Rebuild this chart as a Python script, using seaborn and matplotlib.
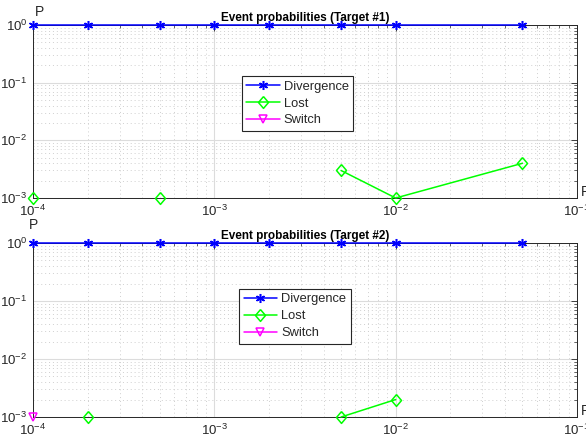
import numpy as np
import pandas as pd
import seaborn as sns
import matplotlib
matplotlib.use("Agg")
import matplotlib.pyplot as plt
from matplotlib.lines import Line2D
from matplotlib.ticker import LogLocator, LogFormatterMathtext, NullFormatter

# Noise rates (x axis) and event probabilities per target (0 = no event, not drawn on log axis)
rates = [1e-4, 2e-4, 5e-4, 1e-3, 2e-3, 5e-3, 1e-2, 5e-2]

t1_divergence = [1, 1, 1, 1, 1, 1, 1, 1]
t1_lost = [1e-3, 0, 1e-3, 0, 0, 3e-3, 1e-3, 4e-3]
t1_switch = [0, 0, 0, 0, 0, 0, 0, 0]

t2_divergence = [1, 1, 1, 1, 1, 1, 1, 1]
t2_lost = [0, 1e-3, 0, 0, 0, 1e-3, 2e-3, 0]
t2_switch = [1e-3, 0, 0, 0, 0, 0, 0, 0]

event_names = ["Divergence", "Lost", "Switch"]
titles = ["Event probabilities (Target #1)", "Event probabilities (Target #2)"]
series = [
    [t1_divergence, t1_lost, t1_switch],
    [t2_divergence, t2_lost, t2_switch],
]

# slightly tall diamond outline
diamond = [(0, 1), (0.85, 0), (0, -1), (-0.85, 0), (0, 1)]

colors = {"Divergence": "#0000ff", "Lost": "#00ff00", "Switch": "#ff00ff"}
markers = {"Divergence": (6, 2, 0), "Lost": diamond, "Switch": "v"}
msizes = {"Divergence": 6.5, "Lost": 8.5, "Switch": 5.5}

sns.set_theme(style="white")
plt.rcParams["font.family"] = ["Liberation Sans", "DejaVu Sans"]
plt.rcParams["mathtext.fontset"] = "custom"
plt.rcParams["mathtext.rm"] = "Liberation Sans"
plt.rcParams["mathtext.it"] = "Liberation Sans"
plt.rcParams["mathtext.default"] = "regular"

fig = plt.figure(figsize=(5.86, 4.41), dpi=100)
W, H = 586, 441
axes_px = [(33, 25, 577, 198), (33, 243, 577, 417)]
legend_anchor = [(0.384, 0.705), (0.379, 0.736)]
p_label_px = [(40, 12.5), (34, 225)]
r_label_px = [(581, 192), (581, 411)]

edge = "#262626"


def to_frame(values, name):
    # split each series into runs of positive values so gaps appear at zeros
    rows = []
    run = 0
    prev_pos = False
    for x, v in zip(rates, values):
        if v > 0:
            if not prev_pos:
                run += 1
            rows.append({"R": x, "P": v, "event": name, "run": run})
            prev_pos = True
        else:
            prev_pos = False
    return pd.DataFrame(rows, columns=["R", "P", "event", "run"])


for i, (l, t, r, b) in enumerate(axes_px):
    ax = fig.add_axes([l / W, 1 - b / H, (r - l) / W, (b - t) / H])
    ax.set_xscale("log")
    ax.set_yscale("log")
    ax.set_xlim(1e-4, 1e-1)
    ax.set_ylim(1e-3, 1)

    for name, vals in zip(event_names, series[i]):
        df = to_frame(vals, name)
        if df.empty:
            continue
        c = colors[name]
        sns.lineplot(data=df, x="R", y="P", units="run", estimator=None,
                     color=c, marker=markers[name], markersize=msizes[name],
                     markerfacecolor="none", markeredgecolor=c,
                     markeredgewidth=1.1, linewidth=1.1, ax=ax,
                     legend=False, clip_on=False, zorder=5)

    ax.set_xlabel("")
    ax.set_ylabel("")

    ax.xaxis.set_major_locator(LogLocator(base=10, numticks=10))
    ax.yaxis.set_major_locator(LogLocator(base=10, numticks=10))
    ax.xaxis.set_minor_locator(LogLocator(base=10, subs=np.arange(2, 10), numticks=20))
    ax.yaxis.set_minor_locator(LogLocator(base=10, subs=np.arange(2, 10), numticks=20))
    ax.xaxis.set_major_formatter(LogFormatterMathtext())
    ax.yaxis.set_major_formatter(LogFormatterMathtext())
    ax.xaxis.set_minor_formatter(NullFormatter())
    ax.yaxis.set_minor_formatter(NullFormatter())

    ax.grid(True, which="major", color="#dcdcdc", linestyle="-", linewidth=0.8)
    ax.grid(True, which="minor", color="#cfcfcf", linestyle=(0, (1, 3)), linewidth=0.7)
    ax.set_axisbelow(True)

    ax.tick_params(which="both", direction="in", top=True, right=True,
                   color=edge, labelcolor=edge, labelsize=9.5, pad=4)
    ax.tick_params(which="major", length=4, width=0.6)
    ax.tick_params(which="minor", length=2.5, width=0.5)
    for s in ax.spines.values():
        s.set_color(edge)
        s.set_linewidth(0.7)
        s.set_visible(True)

    ax.set_title(titles[i], fontsize=8.5, fontweight="bold", color="black", pad=3)

    handles = [Line2D([], [], color=colors[n], marker=markers[n], markersize=msizes[n],
                      markerfacecolor="none", markeredgecolor=colors[n],
                      markeredgewidth=1.1, linewidth=1.1) for n in event_names]
    leg = ax.legend(handles, event_names, loc="upper left",
                    bbox_to_anchor=legend_anchor[i], fontsize=9.3,
                    frameon=True, fancybox=False, framealpha=1,
                    edgecolor=edge, handlelength=2.6, handletextpad=0.3,
                    labelspacing=0.38, borderpad=0.35, borderaxespad=0)
    leg.get_frame().set_linewidth(0.8)
    leg.set_zorder(10)

    px, py = p_label_px[i]
    fig.text(px / W, 1 - py / H, "P", ha="center", va="center", fontsize=10, color=edge)
    rx, ry = r_label_px[i]
    fig.text(rx / W, 1 - ry / H, "R", ha="left", va="center", fontsize=10, color=edge)

fig.savefig("out.png", dpi=100)
